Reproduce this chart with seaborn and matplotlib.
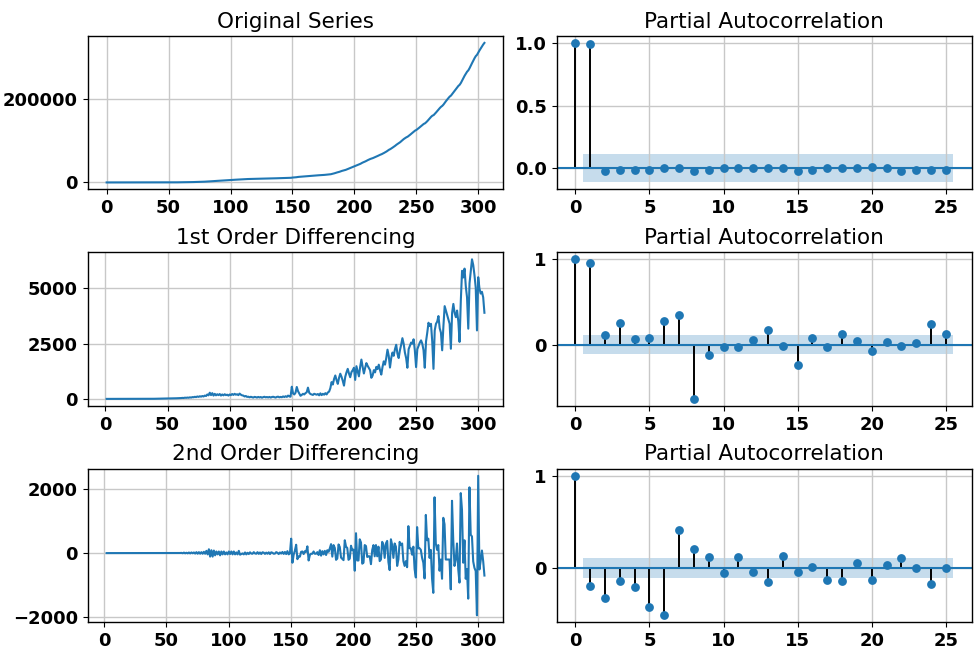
import numpy as np
import pandas as pd
import matplotlib
matplotlib.use("Agg")
import matplotlib.pyplot as plt
import seaborn as sns

# ---------------- data ----------------
start_value = 1
# day-to-day change of the original series, t = 1 .. 305
daily_change = [
    0, 0, 0, 0, 0, 0, 0, 0, 0, 0,
    0, 0, 0, 0, 0, 0, 0, 0, 0, 0,
    0, 0, 0, 0, 0, 0, 0, 0, 0, 0,
    1, 0, 2, 1, 3, 2, 4, 3, 5, 6,
    4, 5, 6, 7, 8, 9, 10, 11, 12, 14,
    15, 17, 19, 21, 23, 25, 28, 30, 33, 35,
    38, 45, 40, 55, 48, 60, 52, 70, 60, 80,
    75, 95, 80, 110, 90, 120, 100, 130, 110, 150,
    130, 200, 160, 280, 170, 260, 150, 230, 160, 210,
    170, 220, 150, 200, 160, 210, 170, 190, 150, 200,
    170, 220, 180, 230, 190, 210, 170, 240, 190, 160,
    150, 110, 130, 90, 100, 70, 95, 80, 60, 90,
    80, 60, 90, 65, 85, 55, 80, 95, 70, 85,
    65, 90, 60, 85, 95, 75, 60, 90, 100, 70,
    90, 75, 110, 85, 120, 90, 150, 110, 100, 550,
    250, 200, 280, 540, 350, 250, 140, 180, 230, 200,
    260, 300, 510, 280, 220, 200, 180, 230, 210, 190,
    220, 160, 250, 170, 230, 190, 260, 200, 290, 330,
    480, 760, 650, 900, 1060, 850, 680, 950, 1140, 1000,
    820, 600, 1000, 1200, 1360, 1150, 980, 1210, 1300, 1410,
    860, 1480, 1250, 1020, 1450, 1780, 1450, 1150, 1400, 1620,
    1500, 1400, 1300, 955, 1050, 1300, 1200, 1450, 1350, 1550,
    1300, 1100, 1450, 1700, 1550, 1850, 2230, 1950, 1420, 1850,
    2100, 1950, 2250, 2450, 2050, 1850, 2200, 2450, 2750, 2500,
    2100, 1850, 1410, 2250, 2400, 2550, 2500, 2700, 2200, 1440,
    2250, 2400, 2550, 2650, 2500, 2200, 1410, 2600, 3000, 3450,
    3300, 3400, 2600, 1360, 3100, 3400, 3500, 3750, 3200, 3000,
    2200, 3300, 4200, 4000, 3800, 3600, 3400, 2270, 3900, 4300,
    3900, 3700, 4000, 3500, 2580, 4450, 5800, 5500, 5900, 5100,
    4600, 3180, 5230, 5800, 6320, 6060, 5600, 5040, 3100, 5510,
    5000, 4770, 4850, 4600, 3900,
]

pacf_lags = list(range(26))
pacf_original = [1.0, 0.99, -0.02, -0.01, -0.01, -0.01, 0.0, 0.0, -0.02, -0.01,
                 0.0, 0.0, 0.0, 0.0, 0.0, -0.02, -0.01, 0.0, 0.0, 0.0,
                 0.01, 0.0, -0.02, -0.01, -0.01, -0.01]
pacf_diff1 = [1.0, 0.96, 0.118, 0.255, 0.07, 0.078, 0.275, 0.345, -0.635, -0.118,
              -0.027, -0.027, 0.055, 0.169, -0.012, -0.235, 0.078, -0.031, 0.125, 0.047,
              -0.078, 0.035, -0.016, 0.016, 0.243, 0.129]
pacf_diff2 = [1.0, -0.195, -0.321, -0.144, -0.206, -0.426, -0.513, 0.412, 0.202, 0.119,
              -0.058, 0.119, -0.047, -0.152, 0.13, -0.04, 0.007, -0.126, -0.144, 0.05,
              -0.134, 0.036, 0.112, -0.004, -0.17, 0.0]
conf_limit = 0.112

left_titles = ["Original Series", "1st Order Differencing", "2nd Order Differencing"]
right_title = "Partial Autocorrelation"
left_yticks = [[0, 200000], [0, 2500, 5000], [-2000, 0, 2000]]
right_yticks = [[0.0, 0.5, 1.0], [0, 1], [0, 1]]
right_yticklabels = [["0.0", "0.5", "1.0"], ["0", "1"], ["0", "1"]]

# ---------------- derived series ----------------
original = pd.Series(np.concatenate([[start_value], start_value + np.cumsum(daily_change)]))
diff1 = original.diff().dropna()
diff2 = original.diff().diff().dropna()
series_list = [original, diff1, diff2]
pacf_list = [pacf_original, pacf_diff1, pacf_diff2]

# ---------------- styling ----------------
plt.rcParams["font.family"] = ["DejaVu Sans"]
plt.rcParams["axes.linewidth"] = 1.0

fig, axes = plt.subplots(3, 2, figsize=(9.75, 6.53), dpi=100)
fig.subplots_adjust(left=0.090, right=0.997, top=0.945, bottom=0.047,
                    wspace=0.128, hspace=0.41)

TICK_SIZE = 13
TITLE_SIZE = 15.5

for i in range(3):
    ax = axes[i, 0]
    s = series_list[i]
    sns.lineplot(x=s.index.values, y=s.values, ax=ax, color="C0", linewidth=1.5)
    ax.set_title(left_titles[i], fontsize=TITLE_SIZE)
    ax.set_xlabel("")
    ax.set_ylabel("")
    ax.grid(True, color="#c8c8c8", linewidth=1.0)
    ax.set_xticks([0, 50, 100, 150, 200, 250, 300])
    ax.set_yticks(left_yticks[i])
    for lab in ax.get_xticklabels() + ax.get_yticklabels():
        lab.set_fontsize(TICK_SIZE)
        lab.set_fontweight("bold")

    ax = axes[i, 1]
    vals = pacf_list[i]
    ax.vlines(pacf_lags, 0, vals, colors="black", linewidth=1.4)
    ax.axhline(0, color="C0", linewidth=1.5)
    sns.scatterplot(x=pacf_lags, y=vals, ax=ax, color="C0", s=40, linewidth=0, zorder=3)
    band_x = [pacf_lags[1] - 0.5, pacf_lags[-1] + 0.5]
    ax.fill_between(band_x, [-conf_limit, -conf_limit], [conf_limit, conf_limit],
                    color="C0", alpha=0.25, linewidth=0)
    ax.margins(0.05)
    ax.set_title(right_title, fontsize=TITLE_SIZE)
    ax.set_xlabel("")
    ax.set_ylabel("")
    ax.grid(True, color="#c8c8c8", linewidth=1.0)
    ax.set_xticks([0, 5, 10, 15, 20, 25])
    ax.set_yticks(right_yticks[i])
    ax.set_yticklabels(right_yticklabels[i])
    for lab in ax.get_xticklabels() + ax.get_yticklabels():
        lab.set_fontsize(TICK_SIZE)
        lab.set_fontweight("bold")

fig.savefig("out.png", dpi=100)
